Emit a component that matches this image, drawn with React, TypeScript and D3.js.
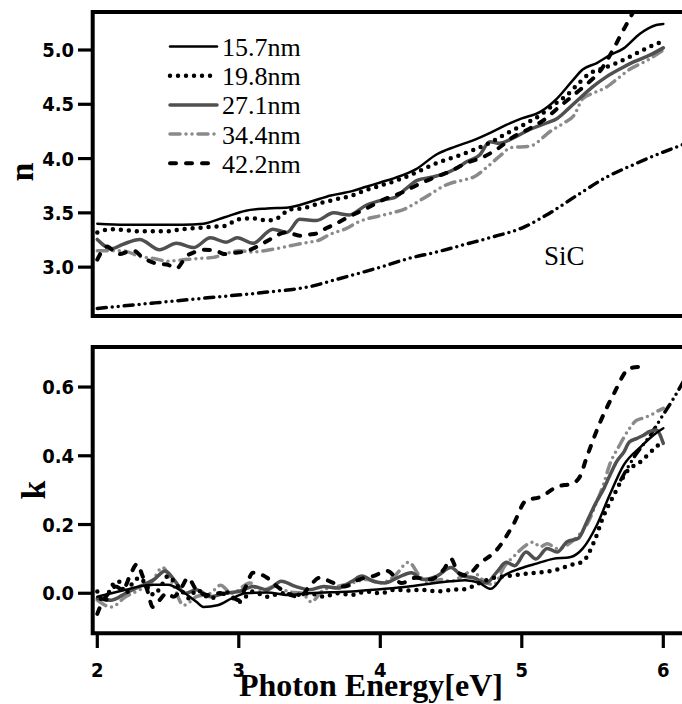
import React, { useEffect, useRef } from 'react';
import * as d3 from 'd3';

// tick values and legend labels
const xTicks = [2, 3, 4, 5, 6];
const nTicks = [3.0, 3.5, 4.0, 4.5, 5.0];
const kTicks = [0.0, 0.2, 0.4, 0.6];
const legendLabels = ['15.7nm', '19.8nm', '27.1nm', '34.4nm', '42.2nm'];

// refractive index n, [photon energy (eV), n]
const n157 = [[2.0, 3.40], [2.2, 3.39], [2.4, 3.39], [2.6, 3.39], [2.75, 3.40], [2.9, 3.46], [3.05, 3.52], [3.2, 3.54], [3.35, 3.55], [3.5, 3.60], [3.65, 3.66], [3.8, 3.70], [3.9, 3.74], [4.0, 3.78], [4.1, 3.82], [4.25, 3.90], [4.4, 4.04], [4.53, 4.11], [4.66, 4.17], [4.78, 4.24], [4.89, 4.31], [5.0, 4.37], [5.13, 4.43], [5.25, 4.555], [5.36, 4.72], [5.43, 4.82], [5.53, 4.88], [5.62, 4.95], [5.72, 5.015], [5.835, 5.15], [5.95, 5.23], [6.0, 5.24]];
const n198 = [[2.0, 3.32], [2.1, 3.35], [2.2, 3.34], [2.3, 3.33], [2.4, 3.33], [2.5, 3.33], [2.6, 3.35], [2.7, 3.36], [2.8, 3.37], [2.9, 3.38], [3.0, 3.44], [3.1, 3.45], [3.2, 3.43], [3.3, 3.47], [3.35, 3.53], [3.45, 3.54], [3.55, 3.58], [3.67, 3.62], [3.8, 3.66], [3.9, 3.71], [4.0, 3.75], [4.14, 3.81], [4.25, 3.87], [4.42, 3.97], [4.54, 4.02], [4.66, 4.08], [4.78, 4.15], [4.89, 4.23], [5.01, 4.31], [5.13, 4.40], [5.22, 4.49], [5.32, 4.585], [5.4, 4.69], [5.48, 4.785], [5.57, 4.83], [5.67, 4.88], [5.75, 4.93], [5.835, 4.985], [5.92, 5.04], [6.0, 5.08]];
const n271 = [[2.0, 3.255], [2.1, 3.17], [2.18, 3.21], [2.3, 3.255], [2.44, 3.16], [2.56, 3.22], [2.68, 3.18], [2.8, 3.27], [2.91, 3.23], [2.99, 3.27], [3.1, 3.22], [3.24, 3.35], [3.34, 3.32], [3.43, 3.44], [3.55, 3.43], [3.67, 3.50], [3.78, 3.48], [3.9, 3.57], [4.02, 3.62], [4.1, 3.64], [4.18, 3.72], [4.26, 3.80], [4.37, 3.83], [4.49, 3.88], [4.55, 3.92], [4.61, 3.97], [4.7, 4.03], [4.775, 4.155], [4.84, 4.14], [4.94, 4.19], [5.06, 4.27], [5.18, 4.33], [5.25, 4.37], [5.33, 4.46], [5.41, 4.555], [5.5, 4.66], [5.6, 4.755], [5.7, 4.83], [5.79, 4.89], [5.9, 4.95], [6.0, 5.02]];
const n344 = [[2.0, 3.15], [2.1, 3.15], [2.18, 3.15], [2.3, 3.10], [2.4, 3.08], [2.5, 3.055], [2.62, 3.07], [2.72, 3.08], [2.82, 3.09], [2.9, 3.12], [3.0, 3.15], [3.1, 3.14], [3.22, 3.16], [3.34, 3.19], [3.45, 3.22], [3.57, 3.25], [3.64, 3.30], [3.75, 3.35], [3.85, 3.42], [4.02, 3.48], [4.18, 3.54], [4.3, 3.63], [4.49, 3.77], [4.58, 3.80], [4.66, 3.83], [4.73, 3.895], [4.85, 4.03], [4.92, 4.10], [5.06, 4.115], [5.2, 4.25], [5.3, 4.33], [5.37, 4.40], [5.43, 4.55], [5.52, 4.61], [5.6, 4.66], [5.68, 4.74], [5.76, 4.82], [5.88, 4.90], [6.0, 5.0]];
const n422 = [[2.0, 3.07], [2.07, 3.19], [2.12, 3.14], [2.16, 3.12], [2.21, 3.14], [2.26, 3.15], [2.31, 3.10], [2.37, 3.055], [2.43, 3.03], [2.49, 3.025], [2.56, 2.99], [2.63, 3.10], [2.69, 3.14], [2.75, 3.16], [2.84, 3.15], [2.9, 3.12], [2.96, 3.13], [3.06, 3.15], [3.13, 3.19], [3.22, 3.255], [3.28, 3.30], [3.34, 3.32], [3.43, 3.29], [3.5, 3.30], [3.55, 3.31], [3.62, 3.36], [3.67, 3.39], [3.78, 3.465], [3.9, 3.54], [4.02, 3.62], [4.14, 3.68], [4.25, 3.75], [4.37, 3.82], [4.49, 3.88], [4.61, 3.96], [4.72, 4.01], [4.84, 4.10], [4.94, 4.20], [5.06, 4.28], [5.16, 4.36], [5.25, 4.46], [5.38, 4.60], [5.48, 4.71], [5.55, 4.80], [5.6, 4.90], [5.65, 5.015], [5.7, 5.14], [5.75, 5.26], [5.8, 5.38]];
const nSiC = [[2.0, 2.62], [2.4, 2.67], [2.8, 2.72], [3.2, 2.77], [3.5, 2.82], [3.7, 2.89], [4.0, 3.00], [4.2, 3.08], [4.4, 3.14], [4.6, 3.21], [4.8, 3.28], [5.0, 3.36], [5.2, 3.50], [5.4, 3.67], [5.6, 3.83], [5.8, 3.95], [6.0, 4.06], [6.14, 4.13]];

// extinction coefficient k, [photon energy (eV), k]
const k157 = [[2.0, -0.01], [2.1, 0.0], [2.2, 0.01], [2.3, 0.02], [2.4, 0.025], [2.5, 0.025], [2.6, 0.005], [2.7, -0.025], [2.75, -0.04], [2.85, -0.035], [2.95, -0.015], [3.05, 0.0], [3.2, 0.002], [3.35, -0.005], [3.5, 0.0], [3.65, 0.003], [3.8, 0.005], [4.0, 0.012], [4.2, 0.02], [4.35, 0.028], [4.5, 0.035], [4.6, 0.038], [4.7, 0.03], [4.78, 0.013], [4.87, 0.05], [4.99, 0.072], [5.11, 0.087], [5.22, 0.10], [5.34, 0.105], [5.43, 0.13], [5.53, 0.198], [5.62, 0.285], [5.72, 0.373], [5.84, 0.426], [5.93, 0.46], [6.0, 0.48]];
const k198 = [[2.0, 0.005], [2.05, -0.025], [2.1, 0.02], [2.15, 0.035], [2.2, 0.0], [2.25, 0.03], [2.3, 0.045], [2.35, 0.02], [2.4, -0.005], [2.45, 0.02], [2.5, 0.05], [2.55, 0.03], [2.6, 0.005], [2.65, -0.015], [2.7, 0.01], [2.8, -0.015], [2.9, 0.005], [3.0, -0.025], [3.1, 0.005], [3.2, -0.01], [3.3, 0.0], [3.4, -0.005], [3.5, 0.0], [3.6, -0.01], [3.7, 0.0], [3.8, -0.005], [3.9, 0.005], [4.0, 0.0], [4.1, 0.01], [4.2, 0.008], [4.3, 0.01], [4.4, 0.005], [4.5, 0.01], [4.6, 0.012], [4.7, 0.03], [4.8, 0.045], [4.9, 0.05], [5.0, 0.055], [5.1, 0.06], [5.18, 0.063], [5.26, 0.07], [5.34, 0.082], [5.43, 0.092], [5.51, 0.149], [5.58, 0.227], [5.65, 0.285], [5.74, 0.353], [5.84, 0.383], [5.95, 0.426], [5.99, 0.44]];
const k271 = [[2.0, -0.015], [2.1, -0.02], [2.2, 0.0], [2.3, 0.02], [2.4, 0.04], [2.48, 0.065], [2.55, 0.035], [2.62, 0.0], [2.7, 0.01], [2.8, -0.01], [2.9, 0.0], [3.0, 0.005], [3.1, 0.02], [3.2, 0.01], [3.3, 0.035], [3.4, 0.02], [3.5, 0.01], [3.6, 0.02], [3.7, 0.015], [3.8, 0.035], [3.87, 0.05], [3.95, 0.035], [4.03, 0.03], [4.12, 0.045], [4.22, 0.06], [4.3, 0.04], [4.4, 0.05], [4.5, 0.075], [4.58, 0.05], [4.66, 0.045], [4.75, 0.03], [4.82, 0.06], [4.89, 0.09], [4.95, 0.08], [5.03, 0.12], [5.1, 0.10], [5.18, 0.13], [5.25, 0.12], [5.32, 0.15], [5.4, 0.16], [5.46, 0.208], [5.52, 0.26], [5.58, 0.305], [5.63, 0.35], [5.67, 0.383], [5.72, 0.41], [5.76, 0.44], [5.81, 0.45], [5.86, 0.46], [5.9, 0.47], [5.95, 0.475], [6.0, 0.436]];
const k344 = [[2.0, -0.02], [2.1, -0.04], [2.2, -0.01], [2.3, 0.01], [2.38, 0.03], [2.46, 0.075], [2.53, 0.03], [2.61, -0.035], [2.7, -0.01], [2.8, 0.0], [2.87, 0.023], [2.95, 0.0], [3.08, 0.03], [3.15, 0.005], [3.25, 0.02], [3.35, 0.005], [3.45, 0.0], [3.51, -0.025], [3.6, 0.01], [3.7, 0.02], [3.8, 0.03], [3.91, 0.04], [4.0, 0.03], [4.1, 0.05], [4.2, 0.09], [4.28, 0.05], [4.35, 0.03], [4.43, 0.04], [4.5, 0.035], [4.58, 0.05], [4.65, 0.065], [4.72, 0.04], [4.8, 0.025], [4.88, 0.08], [4.95, 0.11], [5.03, 0.14], [5.08, 0.149], [5.13, 0.135], [5.18, 0.144], [5.25, 0.13], [5.32, 0.14], [5.39, 0.164], [5.46, 0.2], [5.53, 0.266], [5.58, 0.32], [5.62, 0.373], [5.69, 0.43], [5.76, 0.479], [5.81, 0.503], [5.86, 0.51], [5.91, 0.518], [5.96, 0.53], [6.0, 0.538]];
const k422 = [[2.0, -0.06], [2.03, -0.03], [2.08, 0.0], [2.13, 0.02], [2.18, 0.01], [2.23, 0.05], [2.28, 0.085], [2.32, 0.05], [2.36, 0.0], [2.39, -0.04], [2.44, -0.02], [2.49, 0.0], [2.54, -0.01], [2.6, 0.02], [2.64, 0.045], [2.7, 0.01], [2.78, -0.005], [2.86, 0.0], [2.95, -0.01], [3.0, -0.02], [3.05, 0.02], [3.1, 0.06], [3.2, 0.045], [3.27, 0.02], [3.34, 0.0], [3.43, -0.01], [3.5, 0.02], [3.57, 0.045], [3.67, 0.03], [3.75, 0.02], [3.85, 0.04], [3.95, 0.05], [4.05, 0.065], [4.15, 0.03], [4.25, 0.045], [4.35, 0.04], [4.45, 0.07], [4.5, 0.1], [4.55, 0.06], [4.61, 0.052], [4.7, 0.086], [4.82, 0.125], [4.94, 0.2], [5.03, 0.27], [5.13, 0.28], [5.25, 0.31], [5.36, 0.32], [5.41, 0.339], [5.46, 0.397], [5.55, 0.494], [5.65, 0.58], [5.76, 0.654], [5.84, 0.659]];
const kSiC = [[5.7, 0.33], [5.8, 0.40], [5.9, 0.455], [6.0, 0.52], [6.07, 0.565], [6.14, 0.615]];

const nSeries = [n157, n198, n271, n344, n422];
const kSeries = [k157, k198, k271, k344, k422];

const lineStyles = [
  { color: '#000', width: 2.5, dash: null },
  { color: '#000', width: 4.5, dash: '0 8' },
  { color: '#505050', width: 3.5, dash: null },
  { color: '#8a8a8a', width: 3.5, dash: '10 6 0 6 0 6' },
  { color: '#000', width: 4, dash: '6 10' },
];
const sicStyle = { color: '#000', width: 3.5, dash: '9 6 0 6 0 6' };
const drawOrder = [3, 2, 4, 1, 0];

const width = 682;
const height = 704;
const left = 92.7;
const tickFont = "'DejaVu Sans Condensed', 'DejaVu Sans', sans-serif";
const serif = "'Liberation Serif', 'Times New Roman', serif";

function App() {
  const ref = useRef<SVGSVGElement>(null);

  useEffect(() => {
    const svg = d3.select(ref.current);
    svg.selectAll('*').remove();

    const x = d3.scaleLinear().domain([2, 6]).range([97.3, 663.3]);
    const yN = d3.scaleLinear().domain([2.55, 5.35]).range([316, 12]);
    const yK = d3.scaleLinear().domain([-0.1165, 0.7165]).range([633.3, 347]);

    const panels = [
      { name: 'n', y: yN, series: nSeries, sic: nSiC, ticks: nTicks },
      { name: 'k', y: yK, series: kSeries, sic: kSiC, ticks: kTicks },
    ];
    const fmt = d3.format('.1f');

    panels.forEach((p, pi) => {
      const [bottom, top] = p.y.range();
      const clipId = `clip-${p.name}`;
      svg.append('clipPath').attr('id', clipId)
        .append('rect')
        .attr('x', left).attr('y', top)
        .attr('width', width - left).attr('height', bottom - top);

      const g = svg.append('g').attr('clip-path', `url(#${clipId})`);
      const line = d3.line<number[]>()
        .x(d => x(d[0]))
        .y(d => p.y(d[1]))
        .curve(d3.curveMonotoneX);

      const drawLine = (data: number[][], s: any) => {
        g.append('path')
          .attr('d', line(data))
          .attr('fill', 'none')
          .attr('stroke', s.color)
          .attr('stroke-width', s.width)
          .attr('stroke-linecap', 'round')
          .attr('stroke-linejoin', 'round')
          .attr('stroke-dasharray', s.dash);
      };

      drawLine(p.sic, sicStyle);
      drawOrder.forEach(i => drawLine(p.series[i], lineStyles[i]));

      // frame: top, left, bottom (open on the right)
      svg.append('path')
        .attr('d', `M${width},${top}H${left}V${bottom}H${width}`)
        .attr('fill', 'none')
        .attr('stroke', '#000')
        .attr('stroke-width', 4);

      // y axis
      const ya = svg.append('g');
      p.ticks.forEach(t => {
        ya.append('line')
          .attr('x1', 78).attr('x2', left)
          .attr('y1', p.y(t)).attr('y2', p.y(t))
          .attr('stroke', '#000').attr('stroke-width', 3.2);
        ya.append('text')
          .attr('x', 74).attr('y', p.y(t)).attr('dy', '0.36em')
          .attr('text-anchor', 'end')
          .attr('font-family', tickFont)
          .attr('font-weight', 'bold')
          .attr('font-size', 20)
          .text(fmt(t));
      });

      // x axis only under the k panel
      if (pi === 1) {
        const xa = svg.append('g');
        xTicks.forEach(t => {
          xa.append('line')
            .attr('x1', x(t)).attr('x2', x(t))
            .attr('y1', bottom).attr('y2', 648)
            .attr('stroke', '#000').attr('stroke-width', 3.2);
          xa.append('text')
            .attr('x', x(t)).attr('y', 677)
            .attr('text-anchor', 'middle')
            .attr('font-family', tickFont)
            .attr('font-weight', 'bold')
            .attr('font-size', 20)
            .text(t);
        });
      }
    });

    // axis titles
    svg.append('text')
      .attr('transform', 'translate(33,172) rotate(-90)')
      .attr('text-anchor', 'middle')
      .attr('font-family', serif).attr('font-weight', 'bold').attr('font-size', 34)
      .text('n');
    svg.append('text')
      .attr('transform', 'translate(45,490) rotate(-90)')
      .attr('text-anchor', 'middle')
      .attr('font-family', serif).attr('font-weight', 'bold').attr('font-size', 34)
      .text('k');
    svg.append('text')
      .attr('x', 239).attr('y', 696)
      .attr('font-family', serif).attr('font-weight', 'bold').attr('font-size', 32)
      .text('Photon Energy[eV]');

    // legend
    const lg = svg.append('g');
    legendLabels.forEach((label, i) => {
      const base = 56 + i * 29.2;
      const s = lineStyles[i];
      lg.append('line')
        .attr('x1', 170).attr('x2', 217)
        .attr('y1', base - 9.5).attr('y2', base - 9.5)
        .attr('stroke', s.color)
        .attr('stroke-width', s.width)
        .attr('stroke-linecap', 'round')
        .attr('stroke-dasharray', s.dash);
      lg.append('text')
        .attr('x', 222).attr('y', base)
        .attr('font-family', serif).attr('font-size', 26)
        .text(label);
    });

    svg.append('text')
      .attr('x', 544).attr('y', 265)
      .attr('font-family', serif).attr('font-size', 27)
      .text('SiC');
  }, []);

  return (
    <svg ref={ref} width={width} height={height}
      style={{ position: 'absolute', left: 0, top: 0, background: '#fff' }} />
  );
}

export default App;
